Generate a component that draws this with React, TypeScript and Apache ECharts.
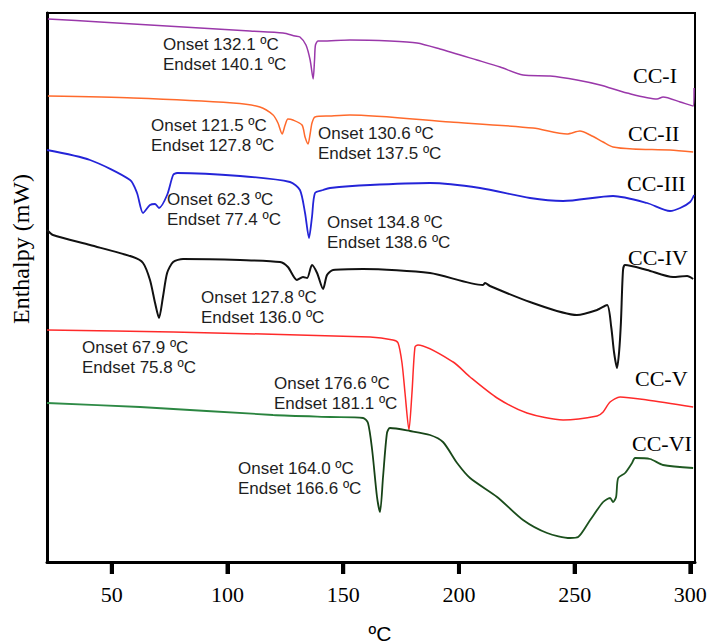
import React, { useEffect, useRef } from "react";
import * as echarts from "echarts";

// x-axis tick values (°C)
const xTicks = [50, 100, 150, 200, 250, 300];
const seriesNames = ["CC-I", "CC-II", "CC-III", "CC-IV", "CC-V", "CC-VI"];

// [temperature °C, heat flow (arbitrary offset, mW)]
const ccI: [number, number][] = [
  [22.4, 54.3], [44.9, 54.0], [66.5, 53.7], [88.1, 53.4], [109.7, 53.1], [124.0, 52.9],
  [129.2, 52.6], [131.3, 52.5], [133.9, 51.7], [135.7, 50.2], [137.0, 48.3], [137.6, 50.2],
  [138.0, 51.7], [139.1, 52.1], [140.8, 52.1], [152.9, 52.2], [170.2, 52.1], [181.9, 51.9],
  [191.8, 51.3], [207.8, 50.2], [217.8, 49.5], [227.7, 48.7], [239.4, 48.6], [251.0, 48.2],
  [261.0, 47.7], [272.6, 46.9], [285.6, 46.3], [288.2, 46.5], [295.6, 46.0], [301.2, 45.6],
  [301.6, 47.4],
];

const ccII: [number, number][] = [
  [22.4, 46.6], [59.2, 46.4], [102.4, 45.9], [114.0, 45.5], [119.7, 44.7], [121.8, 43.9],
  [123.6, 42.8], [124.9, 43.7], [126.1, 44.3], [128.3, 44.2], [132.2, 43.7], [133.5, 42.5],
  [134.8, 41.8], [135.7, 42.8], [136.5, 43.9], [137.8, 44.5], [144.3, 44.6], [152.9, 44.7],
  [196.2, 44.0], [232.0, 43.4], [246.7, 42.8], [252.3, 43.1], [256.7, 42.7], [262.3, 42.0],
  [266.6, 41.5], [275.2, 41.3], [291.2, 41.2], [301.2, 41.0],
];

const ccIII: [number, number][] = [
  [22.0, 41.2], [40.6, 40.2], [57.9, 38.2], [60.9, 36.9], [63.5, 34.9], [66.5, 35.7],
  [68.7, 35.8], [70.4, 35.4], [73.9, 36.7], [76.5, 38.7], [78.2, 38.9], [105.4, 38.6],
  [127.0, 38.0], [131.3, 37.2], [133.5, 34.9], [135.2, 32.4], [136.5, 34.5], [137.8, 36.9],
  [141.3, 37.2], [144.3, 37.4], [161.6, 37.7], [187.5, 37.9], [209.1, 37.4], [230.7, 36.4],
  [245.0, 36.1], [266.6, 36.6], [281.3, 35.9], [291.2, 35.1], [295.6, 35.4], [299.9, 36.0],
  [301.6, 36.7],
];

const ccIV: [number, number][] = [
  [22.0, 33.2], [24.6, 32.7], [40.6, 31.7], [59.2, 30.5], [63.5, 29.9], [66.5, 28.2],
  [68.7, 25.9], [70.4, 24.4], [72.1, 26.5], [73.9, 28.9], [76.5, 30.0], [80.8, 30.3],
  [105.4, 30.2], [122.7, 30.0], [126.1, 29.5], [130.0, 28.2], [132.6, 28.5], [134.4, 28.4],
  [136.5, 29.7], [138.7, 28.9], [141.3, 27.3], [143.0, 28.7], [145.6, 29.2], [158.6, 29.3],
  [187.5, 28.9], [210.4, 27.7], [211.3, 27.9], [213.4, 27.6], [230.7, 26.0], [251.0, 24.7],
  [259.7, 25.2], [264.0, 25.7], [265.8, 23.5], [267.0, 21.0], [268.3, 19.4], [269.2, 21.0],
  [270.0, 24.0], [270.9, 29.2], [271.8, 29.7], [281.3, 29.2], [292.5, 28.5], [298.6, 28.6],
  [301.2, 28.3],
];

const ccV: [number, number][] = [
  [22.0, 23.2], [76.5, 23.0], [161.6, 22.5], [171.5, 22.2], [173.7, 21.9], [175.4, 19.9],
  [176.7, 16.9], [178.4, 13.2], [179.7, 16.9], [181.0, 21.5], [182.3, 21.7], [197.5, 20.0],
  [204.8, 18.5], [216.5, 16.4], [229.4, 14.9], [245.0, 14.2], [259.7, 14.6], [262.3, 15.0],
  [265.3, 16.0], [269.6, 16.5], [281.3, 16.2], [301.2, 15.5],
];

const ccVI: [number, number][] = [
  [22.0, 15.9], [62.2, 15.5], [119.7, 14.7], [144.3, 14.5], [158.6, 14.4], [160.7, 13.9],
  [162.5, 11.2], [164.6, 6.5], [165.9, 5.0], [167.2, 8.5], [168.9, 12.9], [170.2, 13.4],
  [178.9, 13.1], [187.5, 12.7], [193.1, 12.0], [199.2, 9.9], [204.8, 8.4], [216.5, 6.5],
  [227.7, 4.2], [238.1, 2.9], [248.0, 2.4], [251.5, 2.5], [256.7, 4.2], [262.3, 6.0],
  [265.3, 6.4], [266.6, 6.0], [267.9, 6.5], [268.8, 8.4], [271.8, 8.9], [274.8, 9.9],
  [276.1, 10.4], [282.6, 10.3], [288.2, 9.7], [301.2, 9.4],
];

const annotationTexts = [
  ["Onset 132.1 ºC", "Endset 140.1 ºC"],
  ["Onset 121.5 ºC", "Endset 127.8 ºC"],
  ["Onset 130.6 ºC", "Endset 137.5 ºC"],
  ["Onset 62.3 ºC", "Endset 77.4 ºC"],
  ["Onset 134.8 ºC", "Endset 138.6 ºC"],
  ["Onset 127.8 ºC", "Endset 136.0 ºC"],
  ["Onset 67.9 ºC", "Endset 75.8 ºC"],
  ["Onset 176.6 ºC", "Endset 181.1 ºC"],
  ["Onset 164.0 ºC", "Endset 166.6 ºC"],
];

const SERIF = "Liberation Serif";
const SANS = "Liberation Sans";

export default function App() {
  const ref = useRef<HTMLDivElement>(null);

  useEffect(() => {
    document.body.style.margin = "0";
    if (!ref.current) return;
    const chart = echarts.init(ref.current, undefined, { renderer: "svg" });

    const data = [ccI, ccII, ccIII, ccIV, ccV, ccVI];
    const colors: any[] = [
      "#9a38aa",
      "#ff6a2c",
      "#2424d8",
      "#111111",
      "#ff2a2a",
      new echarts.graphic.LinearGradient(0, 0, 1, 0, [
        { offset: 0, color: "#2f8c48" },
        { offset: 0.46, color: "#27803a" },
        { offset: 0.5, color: "#164216" },
        { offset: 1, color: "#1f5a22" },
      ]),
    ];
    const widths = [1.5, 1.5, 1.8, 2, 1.5, 1.8];

    // annotation layout (pixel positions)
    const annoPos = [
      [163, 44], [151, 125], [318, 133], [167, 199], [327, 222],
      [201, 297], [82, 347], [274, 383], [238, 468],
    ];
    const labelPos = [
      [633, 75], [628, 133], [627, 183], [628, 257], [635, 378], [632, 443],
    ];

    const graphics: any[] = [];
    annotationTexts.forEach((pair, i) => {
      pair.forEach((t, j) => {
        graphics.push({
          type: "text",
          x: annoPos[i][0],
          y: annoPos[i][1] + j * 20.5,
          silent: true,
          style: {
            text: t,
            fontFamily: SANS,
            fontSize: 17,
            fill: "#1e1e1e",
            textAlign: "left",
            textVerticalAlign: "middle",
          },
        });
      });
    });
    seriesNames.forEach((n, i) => {
      graphics.push({
        type: "text",
        x: labelPos[i][0],
        y: labelPos[i][1],
        silent: true,
        style: {
          text: n,
          fontFamily: SERIF,
          fontSize: 22,
          fill: "#000",
          textAlign: "left",
          textVerticalAlign: "middle",
        },
      });
    });
    graphics.push({
      type: "text",
      x: 21,
      y: 249,
      rotation: Math.PI / 2,
      silent: true,
      style: {
        text: "Enthalpy (mW)",
        fontFamily: SERIF,
        fontSize: 24,
        fill: "#000",
        textAlign: "center",
        textVerticalAlign: "middle",
      },
    });

    chart.setOption({
      animation: false,
      backgroundColor: "#fff",
      grid: {
        left: 47,
        right: 14,
        top: 13,
        bottom: 82,
        show: true,
        borderColor: "#000",
        borderWidth: 2,
        containLabel: false,
        outerBoundsMode: "none",
      },
      xAxis: {
        type: "value",
        min: 22,
        max: 302,
        name: "ºC",
        nameLocation: "middle",
        nameGap: 61,
        nameTextStyle: {
          fontFamily: SANS,
          fontSize: 21,
          color: "#000",
          padding: [0, 0, 0, 18],
        },
        axisLine: { show: true, onZero: false, lineStyle: { color: "#000", width: 3 } },
        axisTick: {
          show: true,
          inside: false,
          length: 12,
          customValues: xTicks,
          lineStyle: { color: "#000", width: 4 },
        },
        axisLabel: {
          show: true,
          customValues: xTicks,
          margin: 21,
          fontFamily: SERIF,
          fontSize: 22,
          color: "#000",
        },
        splitLine: { show: false },
      },
      yAxis: {
        type: "value",
        min: 0,
        max: 54.9,
        axisLine: { show: true, onZero: false, lineStyle: { color: "#000", width: 3 } },
        axisTick: { show: false },
        axisLabel: { show: false },
        splitLine: { show: false },
      },
      series: data.map((d, i) => ({
        name: seriesNames[i],
        type: "line",
        data: d,
        showSymbol: false,
        symbol: "none",
        smooth: 0.25,
        lineStyle: { color: colors[i], width: widths[i] },
        itemStyle: { color: i === 5 ? "#1f5a22" : colors[i] },
        z: 3,
      })),
      graphic: graphics,
    });

    // thick outward ticks placed through the axis scale
    const y0 = chart.convertToPixel({ yAxisIndex: 0 }, 0) as number;
    const tickGraphics = xTicks.map((v) => {
      const x = chart.convertToPixel({ xAxisIndex: 0 }, v) as number;
      return {
        type: "line",
        silent: true,
        z: 10,
        shape: { x1: x, y1: y0, x2: x, y2: y0 + 12 },
        style: { stroke: "#000", lineWidth: 4 },
      };
    });
    chart.setOption({ graphic: [...graphics, ...tickGraphics] });

    return () => chart.dispose();
  }, []);

  return <div ref={ref} style={{ width: 709, height: 644 }} />;
}
